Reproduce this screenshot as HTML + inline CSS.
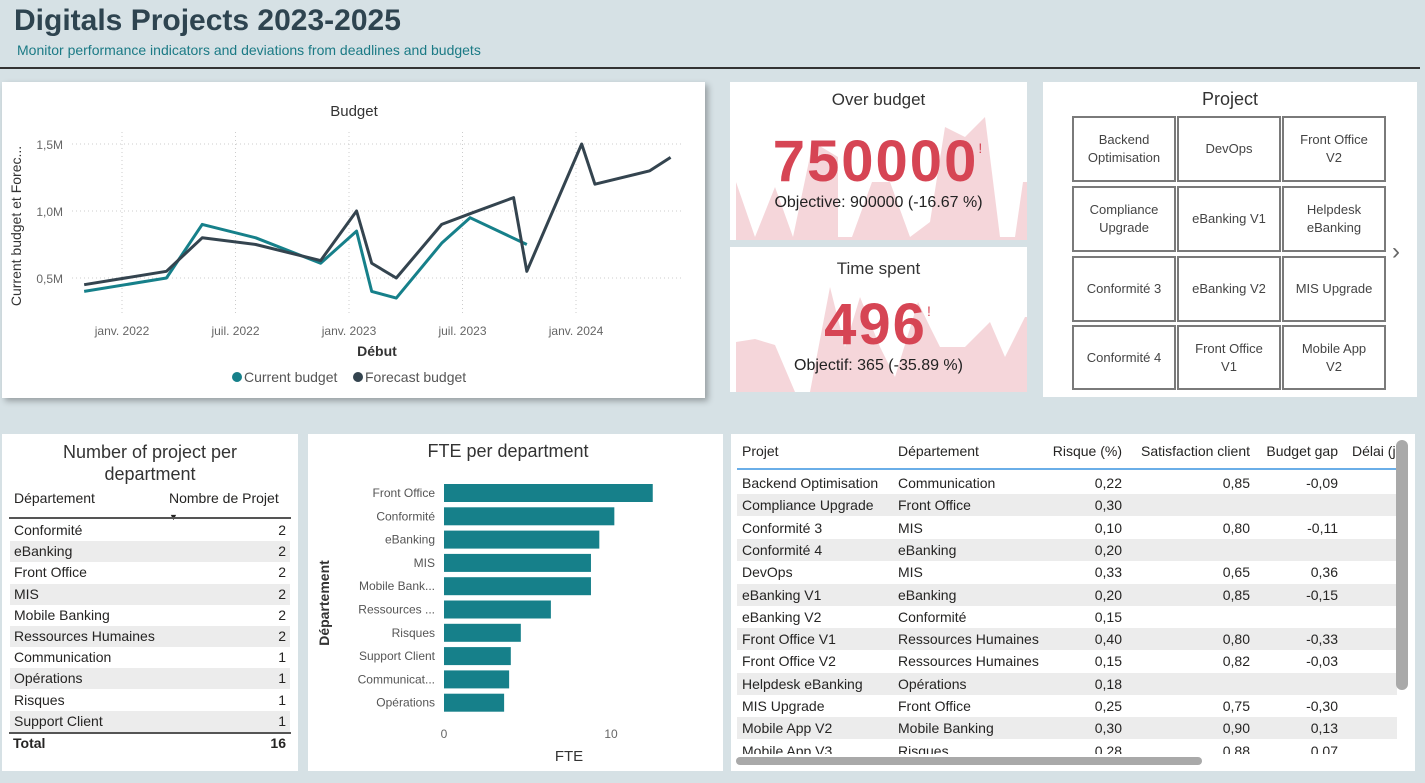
<!DOCTYPE html>
<html><head><meta charset="utf-8"><style>
body{margin:0;width:1425px;height:783px;background:#d6e1e5;font-family:"Liberation Sans",sans-serif;position:relative;overflow:hidden;color:#252423}
.p{position:absolute;background:#fff}
.abs{position:absolute}
.tile{position:absolute;border:2px solid #7a7a7a;box-sizing:border-box;display:flex;align-items:center;justify-content:center;text-align:center;font-size:13px;color:#444;line-height:18px;background:#fff}
.row{position:absolute;left:10px;width:280px;height:21px;font-size:14px;line-height:21px}
.row span{position:absolute}
.tr{position:absolute;left:737px;width:660px;height:22px;font-size:14px;line-height:22px;overflow:hidden}
.tr span{position:absolute;white-space:nowrap}
</style></head><body>
<div class="abs" style="left:14px;top:4px;font-size:30px;font-weight:bold;color:#2e4450">Digitals Projects 2023-2025</div>
<div class="abs" style="left:17px;top:42px;font-size:14px;color:#1b7a85">Monitor performance indicators and deviations from deadlines and budgets</div>
<div class="abs" style="left:0;top:67px;width:1420px;height:2px;background:#333"></div>

<div class="p" style="left:2px;top:82px;width:703px;height:316px;box-shadow:3px 3px 6px rgba(0,0,0,.3)"></div>
<svg class="abs" style="left:0;top:0" width="710" height="400" id="bsvg"></svg>

<div class="p" style="left:730px;top:82px;width:297px;height:158px;overflow:hidden">
<svg width="297" height="158" style="position:absolute;left:0;top:0"><polygon fill="#f5d6da" points="6,155 6,100 25,155 45,105 63,155 83,60 108,75 108,155 122,155 142,100 160,100 180,155 200,140 215,45 235,55 255,35 270,155 285,155 293,100 297,100 297,158 6,158"/></svg>
<div class="abs" style="left:0;width:297px;top:8px;text-align:center;font-size:17px;color:#333">Over budget</div>
<div class="abs" style="left:0;width:297px;top:46px;text-align:center;font-size:58px;font-weight:bold;color:#d64554;letter-spacing:2px">750000<span style="font-size:14px;font-weight:normal;vertical-align:top;position:relative;top:12px">!</span></div>
<div class="abs" style="left:0;width:297px;top:112px;text-align:center;font-size:16px;color:#222">Objective: 900000 (-16.67 %)</div>
</div>
<div class="p" style="left:730px;top:247px;width:297px;height:145px;overflow:hidden">
<svg width="297" height="145" style="position:absolute;left:0;top:0"><polygon fill="#f5d6da" points="6,145 6,95 25,92 45,98 65,145 80,145 100,40 115,100 130,50 150,100 165,130 188,55 200,80 210,100 235,100 260,75 275,110 295,70 297,70 297,145"/></svg>
<div class="abs" style="left:0;width:297px;top:12px;text-align:center;font-size:17px;color:#333">Time spent</div>
<div class="abs" style="left:0;width:297px;top:44px;text-align:center;font-size:58px;font-weight:bold;color:#d64554;letter-spacing:2px">496<span style="font-size:14px;font-weight:normal;vertical-align:top;position:relative;top:12px">!</span></div>
<div class="abs" style="left:0;width:297px;top:110px;text-align:center;font-size:16px;color:#222">Objectif: 365 (-35.89 %)</div>
</div>

<div class="p" style="left:1043px;top:82px;width:374px;height:315px">
<div class="abs" style="left:0;width:374px;top:7px;text-align:center;font-size:18px;color:#333">Project</div>
</div>
<div class="tile" style="left:1072px;top:116px;width:104px;height:66px">Backend<br>Optimisation</div>
<div class="tile" style="left:1177px;top:116px;width:104px;height:66px">DevOps</div>
<div class="tile" style="left:1282px;top:116px;width:104px;height:66px">Front Office<br>V2</div>
<div class="tile" style="left:1072px;top:186px;width:104px;height:66px">Compliance<br>Upgrade</div>
<div class="tile" style="left:1177px;top:186px;width:104px;height:66px">eBanking V1</div>
<div class="tile" style="left:1282px;top:186px;width:104px;height:66px">Helpdesk<br>eBanking</div>
<div class="tile" style="left:1072px;top:256px;width:104px;height:66px">Conformité 3</div>
<div class="tile" style="left:1177px;top:256px;width:104px;height:66px">eBanking V2</div>
<div class="tile" style="left:1282px;top:256px;width:104px;height:66px">MIS Upgrade</div>
<div class="tile" style="left:1072px;top:325px;width:104px;height:65px">Conformité 4</div>
<div class="tile" style="left:1177px;top:325px;width:104px;height:65px">Front Office<br>V1</div>
<div class="tile" style="left:1282px;top:325px;width:104px;height:65px">Mobile App<br>V2</div>
<div class="abs" style="left:1392px;top:238px;font-size:24px;color:#666;font-weight:200">&#x203A;</div>

<div class="p" style="left:2px;top:434px;width:296px;height:337px"></div>
<div class="abs" style="left:10px;top:441px;width:280px;text-align:center;font-size:18px;line-height:22px;color:#333">Number of project per<br>department</div>
<div class="abs" style="left:14px;top:490px;font-size:14px">Département</div>
<div class="abs" style="left:169px;top:490px;font-size:14px;line-height:17px">Nombre de Projet<br><span style="font-size:9px">&#9660;</span></div>
<div class="abs" style="left:9px;top:517px;width:282px;height:2px;background:#555"></div>
<div id="ltab"></div>
<div class="abs" style="left:9px;top:732px;width:282px;height:2px;background:#555"></div>
<div class="abs" style="left:13px;top:735px;font-size:14px;font-weight:bold">Total</div>
<div class="abs" style="left:230px;width:56px;text-align:right;top:735px;font-size:14px;font-weight:bold">16</div>

<div class="p" style="left:308px;top:434px;width:415px;height:337px"></div>
<svg class="abs" style="left:300px;top:430px" width="420" height="350" id="fsvg"></svg>

<div class="p" style="left:731px;top:434px;width:684px;height:337px"></div>
<div id="rtab"></div>
<div class="abs" style="left:1396px;top:440px;width:12px;height:250px;background:#a9a9a9;border-radius:6px"></div>
<div class="abs" style="left:736px;top:757px;width:466px;height:8px;background:#a9a9a9;border-radius:4px"></div>

<script>
// Budget chart data
const fMonths=[-2.0,2.35,4.24,7.07,10.5,12.4,13.2,14.5,16.9,18.4,20.7,21.4,24.3,25.0,27.9,29.0];
const fVals=[0.45,0.55,0.80,0.75,0.63,1.0,0.61,0.50,0.90,0.98,1.10,0.55,1.5,1.2,1.30,1.40];
const cMonths=[-2.0,2.35,4.24,7.07,10.5,12.4,13.2,14.5,16.9,18.4,21.4];
const cVals=[0.40,0.50,0.90,0.80,0.61,0.85,0.40,0.35,0.76,0.95,0.75];
const yTicks=[0.5,1.0,1.5];
const yTickLabels=["0,5M","1,0M","1,5M"];
const xTicks=[0,6,12,18,24];
const xTickLabels=["janv. 2022","juil. 2022","janv. 2023","juil. 2023","janv. 2024"];
// FTE data
const depts=["Front Office","Conformité","eBanking","MIS","Mobile Bank...","Ressources ...","Risques","Support Client","Communicat...","Opérations"];
const fte=[12.5,10.2,9.3,8.8,8.8,6.4,4.6,4.0,3.9,3.6];
const fteTicks=[0,10];
// Left table
const cntDepts=["Conformité","eBanking","Front Office","MIS","Mobile Banking","Ressources Humaines","Communication","Opérations","Risques","Support Client"];
const cntVals=[2,2,2,2,2,2,1,1,1,1];
// Right table
const projs=["Backend Optimisation","Compliance Upgrade","Conformité 3","Conformité 4","DevOps","eBanking V1","eBanking V2","Front Office V1","Front Office V2","Helpdesk eBanking","MIS Upgrade","Mobile App V2","Mobile App V3"];
const pDepts=["Communication","Front Office","MIS","eBanking","MIS","eBanking","Conformité","Ressources Humaines","Ressources Humaines","Opérations","Front Office","Mobile Banking","Risques"];
const risk=["0,22","0,30","0,10","0,20","0,33","0,20","0,15","0,40","0,15","0,18","0,25","0,30","0,28"];
const sat=["0,85","","0,80","","0,65","0,85","","0,80","0,82","","0,75","0,90","0,88"];
const gap=["-0,09","","-0,11","","0,36","-0,15","","-0,33","-0,03","","-0,30","0,13","0,07"];

const NS="http://www.w3.org/2000/svg";
function mk(svg,tag,attrs,txt){const e=document.createElementNS(NS,tag);for(const k in attrs)e.setAttribute(k,attrs[k]);if(txt!==undefined)e.textContent=txt;svg.appendChild(e);return e;}
const bx=m=>122+m*(454/24), by=v=>278-(v-0.5)*134;
const b=document.getElementById('bsvg');
let t=mk(b,'text',{x:354,y:116,'text-anchor':'middle','font-size':15,fill:'#333'},'Budget');

yTicks.forEach((v,i)=>{let g=mk(b,'line',{x1:72,x2:682,y1:by(v),y2:by(v),stroke:'#ccc','stroke-dasharray':'1,3'});

let l=mk(b,'text',{x:63,y:by(v)+5,'text-anchor':'end','font-size':12,fill:'#666'},yTickLabels[i]);
});
xTicks.forEach((m,i)=>{let g=mk(b,'line',{x1:bx(m),x2:bx(m),y1:132,y2:315,stroke:'#ccc','stroke-dasharray':'1,3'});

let l=mk(b,'text',{x:bx(m),y:335,'text-anchor':'middle','font-size':12,fill:'#666'},xTickLabels[i]);
});
t=mk(b,'text',{x:377,y:356,'text-anchor':'middle','font-size':14,'font-weight':'bold',fill:'#333'},'Début');

t=mk(b,'text',{x:0,y:0,transform:'translate(21,226) rotate(-90)','text-anchor':'middle','font-size':14,fill:'#333'},'Current budget et Forec...');

let p=mk(b,'polyline',{points:cMonths.map((m,i)=>bx(m)+','+by(cVals[i])).join(' '),fill:'none',stroke:'#16808a','stroke-width':3,'stroke-linejoin':'round'});

p=mk(b,'polyline',{points:fMonths.map((m,i)=>bx(m)+','+by(fVals[i])).join(' '),fill:'none',stroke:'#34444f','stroke-width':3,'stroke-linejoin':'round'});

let c=mk(b,'circle',{cx:237,cy:377,r:5,fill:'#16808a'});
t=mk(b,'text',{x:244,y:382,'font-size':14,fill:'#555'},'Current budget');
c=mk(b,'circle',{cx:358,cy:377,r:5,fill:'#34444f'});
t=mk(b,'text',{x:365,y:382,'font-size':14,fill:'#555'},'Forecast budget');

// FTE chart (svg offset 300,430)
const f=document.getElementById('fsvg');
const fx=v=>144+v*16.7, fy=i=>54+i*23.3;
t=mk(f,'text',{x:208,y:27,'text-anchor':'middle','font-size':18,fill:'#333'},'FTE per department');

depts.forEach((d,i)=>{let r=mk(f,'rect',{x:fx(0),y:fy(i),width:fx(fte[i])-fx(0),height:18,fill:'#16808a'});

let l=mk(f,'text',{x:135,y:fy(i)+13,'text-anchor':'end','font-size':12,fill:'#555'},d);
});
fteTicks.forEach(v=>{let l=mk(f,'text',{x:fx(v),y:308,'text-anchor':'middle','font-size':12,fill:'#666'},String(v));
});
t=mk(f,'text',{x:269,y:331,'text-anchor':'middle','font-size':15,fill:'#333'},'FTE');

t=mk(f,'text',{x:0,y:0,transform:'translate(29,173) rotate(-90)','text-anchor':'middle','font-size':14,'font-weight':'bold',fill:'#333'},'Département');


// Left table
const lt=document.getElementById('ltab');
cntDepts.forEach((d,i)=>{const r=document.createElement('div');r.className='row';r.style.top=(520+i*21.2)+'px';r.style.background=i%2?'#ececec':'#fff';

r.innerHTML='<span style="left:4px">'+d+'</span><span style="right:4px">'+cntVals[i]+'</span>';lt.appendChild(r);});

// Right table
const rt=document.getElementById('rtab');
const hd=document.createElement('div');hd.className='tr';hd.style.top='440px';hd.style.height='28px';hd.style.borderBottom='2px solid #6aaee8';

hd.innerHTML='<span style="left:5px">Projet</span><span style="left:161px">Département</span><span style="right:275px">Risque (%)</span><span style="right:147px">Satisfaction client</span><span style="right:59px">Budget gap</span><span style="left:615px">Délai (j</span>';
rt.appendChild(hd);
projs.forEach((pj,i)=>{const r=document.createElement('div');r.className='tr';r.style.top=(472+i*22.3)+'px';r.style.background=i%2?'#ececec':'#fff';
if(i==12)r.style.height='14px';

r.innerHTML='<span style="left:5px">'+pj+'</span><span style="left:161px">'+pDepts[i]+'</span><span style="right:275px">'+risk[i]+'</span><span style="right:147px">'+sat[i]+'</span><span style="right:59px">'+gap[i]+'</span>';
rt.appendChild(r);});
</script>
</body></html>
